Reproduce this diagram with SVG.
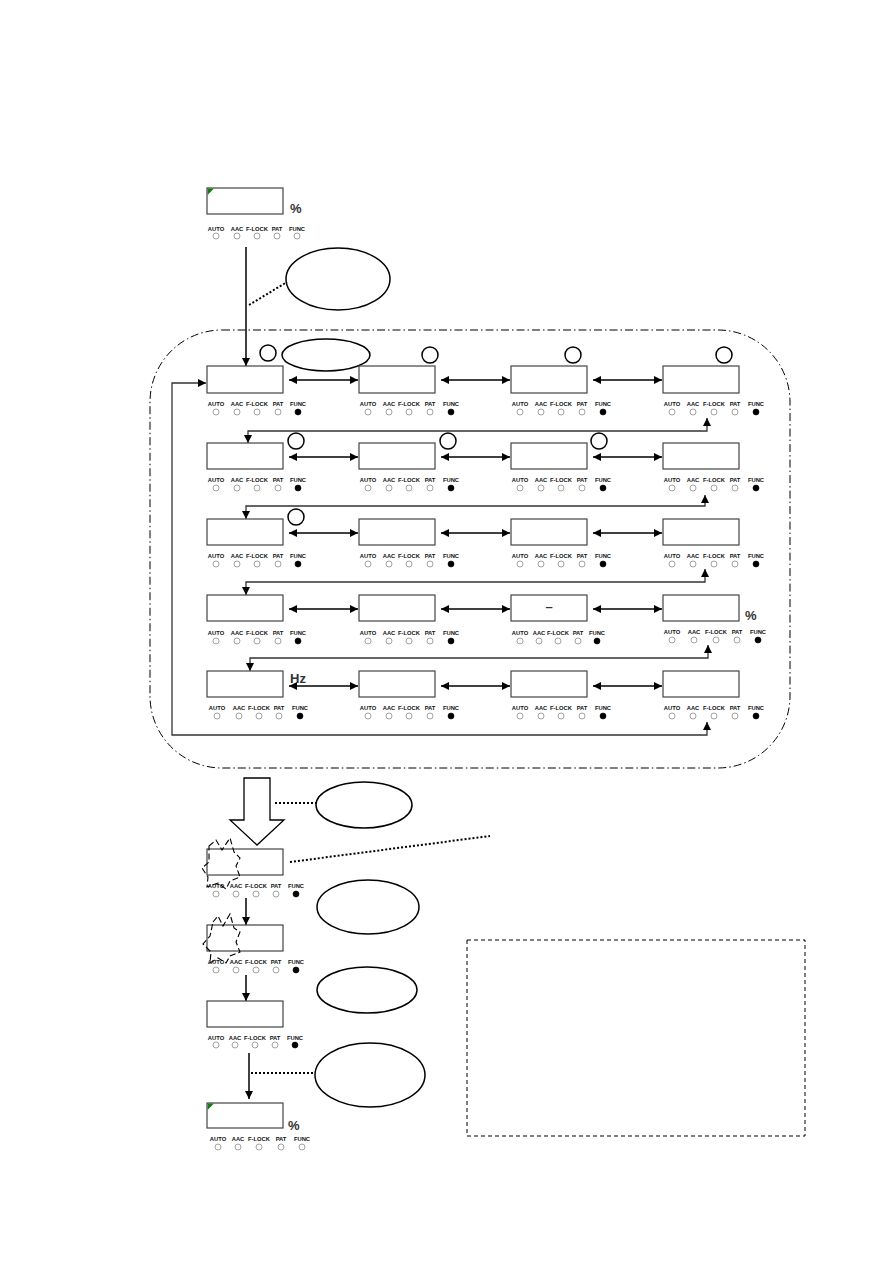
<svg xmlns="http://www.w3.org/2000/svg" width="893" height="1263" viewBox="0 0 893 1263">
<style>
.box{fill:#fff;stroke:#444;stroke-width:1.2}
.lbl{font-family:"Liberation Sans",Arial,sans-serif;font-size:5.8px;font-weight:bold;text-anchor:middle;fill:#111}
.led{fill:#fff;stroke:#666;stroke-width:0.6}
.on{fill:#000;stroke:#000;stroke-width:0.6}
.ln{fill:none;stroke:#000;stroke-width:1.5}
.lnt{fill:none;stroke:#333;stroke-width:1.3}
.dot{fill:none;stroke:#000;stroke-width:2;stroke-dasharray:2 2}
.ell{fill:none;stroke:#000;stroke-width:1.5}
.big{font-family:"Liberation Sans",Arial,sans-serif;font-size:13px;font-weight:bold;fill:#333}
</style>
<defs>
<marker id="ah" viewBox="0 0 10 10" refX="10" refY="5" markerWidth="10" markerHeight="8" markerUnits="userSpaceOnUse" orient="auto-start-reverse"><path d="M0,0 L10,5 L0,10 Z" fill="#000"/></marker>
</defs>
<rect width="893" height="1263" fill="#fff"/>

<!-- outer dash-dot region -->
<rect x="150" y="330" width="640" height="438" rx="72" ry="72" fill="none" stroke="#000" stroke-width="1" stroke-dasharray="8 3 1.5 3"/>

<!-- connectors -->
<g id="connectors">
<line class="ln" x1="246" y1="247" x2="246" y2="366" marker-end="url(#ah)"/>
<path class="dot" d="M249,305 L287,282"/>
<line class="ln" x1="289" y1="380" x2="358" y2="380" marker-start="url(#ah)" marker-end="url(#ah)"/>
<line class="ln" x1="441" y1="380" x2="510" y2="380" marker-start="url(#ah)" marker-end="url(#ah)"/>
<line class="ln" x1="593" y1="380" x2="662" y2="380" marker-start="url(#ah)" marker-end="url(#ah)"/>
<path class="lnt" d="M707,418 L707,431 L248,431 L248,443" marker-start="url(#ah)" marker-end="url(#ah)"/>
<line class="ln" x1="289" y1="457" x2="358" y2="457" marker-start="url(#ah)" marker-end="url(#ah)"/>
<line class="ln" x1="441" y1="457" x2="510" y2="457" marker-start="url(#ah)" marker-end="url(#ah)"/>
<line class="ln" x1="593" y1="457" x2="662" y2="457" marker-start="url(#ah)" marker-end="url(#ah)"/>
<path class="lnt" d="M705,495 L705,506 L246,506 L246,519" marker-start="url(#ah)" marker-end="url(#ah)"/>
<line class="ln" x1="289" y1="533" x2="358" y2="533" marker-start="url(#ah)" marker-end="url(#ah)"/>
<line class="ln" x1="441" y1="533" x2="510" y2="533" marker-start="url(#ah)" marker-end="url(#ah)"/>
<line class="ln" x1="593" y1="533" x2="662" y2="533" marker-start="url(#ah)" marker-end="url(#ah)"/>
<path class="lnt" d="M705,569 L705,582 L246,582 L246,595" marker-start="url(#ah)" marker-end="url(#ah)"/>
<line class="ln" x1="289" y1="609" x2="358" y2="609" marker-start="url(#ah)" marker-end="url(#ah)"/>
<line class="ln" x1="441" y1="609" x2="510" y2="609" marker-start="url(#ah)" marker-end="url(#ah)"/>
<line class="ln" x1="593" y1="609" x2="662" y2="609" marker-start="url(#ah)" marker-end="url(#ah)"/>
<path class="lnt" d="M708,645 L708,658 L250,658 L250,671" marker-start="url(#ah)" marker-end="url(#ah)"/>
<line class="ln" x1="289" y1="686" x2="358" y2="686" marker-start="url(#ah)" marker-end="url(#ah)"/>
<line class="ln" x1="441" y1="686" x2="510" y2="686" marker-start="url(#ah)" marker-end="url(#ah)"/>
<line class="ln" x1="593" y1="686" x2="662" y2="686" marker-start="url(#ah)" marker-end="url(#ah)"/>
<path class="lnt" d="M707,722 L707,735 L172,735 L172,383 L206,383" marker-start="url(#ah)" marker-end="url(#ah)"/>
<!-- bottom -->
<path d="M244,778 L270,778 L270,820 L284,820 L257,845 L230,820 L244,820 Z" fill="#fff" stroke="#000" stroke-width="1.3"/>
<path class="dot" d="M275,803 L316,803"/>
<path class="dot" d="M290,862 L490,836"/>
<line class="ln" x1="246" y1="898" x2="246" y2="925" stroke-width="2" marker-end="url(#ah)"/>
<line class="ln" x1="246" y1="975" x2="246" y2="1001" stroke-width="2" marker-end="url(#ah)"/>
<line class="ln" x1="249" y1="1053" x2="249" y2="1099" stroke-width="2" marker-end="url(#ah)"/>
<path class="dot" d="M251,1073 L314,1073"/>
</g>

<!-- callout ellipses and circles -->
<g id="callouts">
<ellipse class="ell" cx="338" cy="279" rx="52" ry="31"/>
<ellipse class="ell" cx="326" cy="355" rx="44" ry="16"/>
<circle class="ell" cx="268" cy="353" r="8"/>
<circle class="ell" cx="430" cy="355" r="8"/>
<circle class="ell" cx="573" cy="355" r="8"/>
<circle class="ell" cx="724" cy="355" r="8"/>
<circle class="ell" cx="296" cy="441" r="8"/>
<circle class="ell" cx="448" cy="441" r="8"/>
<circle class="ell" cx="599" cy="441" r="8"/>
<circle class="ell" cx="296" cy="517" r="8"/>
<ellipse class="ell" cx="364" cy="805" rx="48" ry="23"/>
<ellipse class="ell" cx="368" cy="907" rx="51" ry="27"/>
<ellipse class="ell" cx="367" cy="990" rx="50" ry="23"/>
<ellipse class="ell" cx="370" cy="1075" rx="55" ry="32"/>
<rect x="467" y="940" width="338" height="196" fill="none" stroke="#000" stroke-width="1" stroke-dasharray="4 3"/>
</g>

<!-- top panel -->
<g id="n-top">
<rect class="box" x="207" y="188" width="76" height="26"/>
<path d="M207.6,188.6 L214,188.6 L207.6,195 Z" fill="#1a7a1a"/>
<text class="big" x="290" y="213">%</text>
<text class="lbl" x="216" y="231">AUTO</text><text class="lbl" x="237" y="231">AAC</text><text class="lbl" x="257" y="231">F-LOCK</text><text class="lbl" x="277" y="231">PAT</text><text class="lbl" x="297" y="231">FUNC</text>
<circle class="led" cx="216" cy="236" r="3"/><circle class="led" cx="237" cy="236" r="3"/><circle class="led" cx="257" cy="236" r="3"/><circle class="led" cx="277" cy="236" r="3"/><circle class="led" cx="297" cy="236" r="3"/>
</g>

<!-- row 1 -->
<g id="n-r1c1">
<rect class="box" x="207" y="366" width="76" height="27"/>
<text class="lbl" x="216" y="406">AUTO</text><text class="lbl" x="237" y="406">AAC</text><text class="lbl" x="257" y="406">F-LOCK</text><text class="lbl" x="278" y="406">PAT</text><text class="lbl" x="298" y="406">FUNC</text>
<circle class="led" cx="216" cy="412" r="3"/><circle class="led" cx="237" cy="412" r="3"/><circle class="led" cx="257" cy="412" r="3"/><circle class="led" cx="278" cy="412" r="3"/><circle class="on" cx="298" cy="412" r="3"/>
</g>
<g id="n-r1c2">
<rect class="box" x="359" y="366" width="76" height="27"/>
<text class="lbl" x="368" y="406">AUTO</text><text class="lbl" x="389" y="406">AAC</text><text class="lbl" x="409" y="406">F-LOCK</text><text class="lbl" x="430" y="406">PAT</text><text class="lbl" x="451" y="406">FUNC</text>
<circle class="led" cx="368" cy="412" r="3"/><circle class="led" cx="389" cy="412" r="3"/><circle class="led" cx="409" cy="412" r="3"/><circle class="led" cx="430" cy="412" r="3"/><circle class="on" cx="451" cy="412" r="3"/>
</g>
<g id="n-r1c3">
<rect class="box" x="511" y="366" width="76" height="27"/>
<text class="lbl" x="520" y="406">AUTO</text><text class="lbl" x="541" y="406">AAC</text><text class="lbl" x="561" y="406">F-LOCK</text><text class="lbl" x="582" y="406">PAT</text><text class="lbl" x="603" y="406">FUNC</text>
<circle class="led" cx="520" cy="412" r="3"/><circle class="led" cx="541" cy="412" r="3"/><circle class="led" cx="561" cy="412" r="3"/><circle class="led" cx="582" cy="412" r="3"/><circle class="on" cx="603" cy="412" r="3"/>
</g>
<g id="n-r1c4">
<rect class="box" x="663" y="366" width="76" height="27"/>
<text class="lbl" x="672" y="406">AUTO</text><text class="lbl" x="693" y="406">AAC</text><text class="lbl" x="714" y="406">F-LOCK</text><text class="lbl" x="735" y="406">PAT</text><text class="lbl" x="756" y="406">FUNC</text>
<circle class="led" cx="672" cy="412" r="3"/><circle class="led" cx="693" cy="412" r="3"/><circle class="led" cx="714" cy="412" r="3"/><circle class="led" cx="735" cy="412" r="3"/><circle class="on" cx="756" cy="412" r="3"/>
</g>

<!-- row 2 -->
<g id="n-r2c1">
<rect class="box" x="207" y="443" width="76" height="26"/>
<text class="lbl" x="216" y="482">AUTO</text><text class="lbl" x="237" y="482">AAC</text><text class="lbl" x="257" y="482">F-LOCK</text><text class="lbl" x="278" y="482">PAT</text><text class="lbl" x="298" y="482">FUNC</text>
<circle class="led" cx="216" cy="488" r="3"/><circle class="led" cx="237" cy="488" r="3"/><circle class="led" cx="257" cy="488" r="3"/><circle class="led" cx="278" cy="488" r="3"/><circle class="on" cx="298" cy="488" r="3"/>
</g>
<g id="n-r2c2">
<rect class="box" x="359" y="443" width="76" height="26"/>
<text class="lbl" x="368" y="482">AUTO</text><text class="lbl" x="389" y="482">AAC</text><text class="lbl" x="409" y="482">F-LOCK</text><text class="lbl" x="430" y="482">PAT</text><text class="lbl" x="451" y="482">FUNC</text>
<circle class="led" cx="368" cy="488" r="3"/><circle class="led" cx="389" cy="488" r="3"/><circle class="led" cx="409" cy="488" r="3"/><circle class="led" cx="430" cy="488" r="3"/><circle class="on" cx="451" cy="488" r="3"/>
</g>
<g id="n-r2c3">
<rect class="box" x="511" y="443" width="76" height="26"/>
<text class="lbl" x="520" y="482">AUTO</text><text class="lbl" x="541" y="482">AAC</text><text class="lbl" x="561" y="482">F-LOCK</text><text class="lbl" x="582" y="482">PAT</text><text class="lbl" x="603" y="482">FUNC</text>
<circle class="led" cx="520" cy="488" r="3"/><circle class="led" cx="541" cy="488" r="3"/><circle class="led" cx="561" cy="488" r="3"/><circle class="led" cx="582" cy="488" r="3"/><circle class="on" cx="603" cy="488" r="3"/>
</g>
<g id="n-r2c4">
<rect class="box" x="663" y="443" width="76" height="26"/>
<text class="lbl" x="672" y="482">AUTO</text><text class="lbl" x="693" y="482">AAC</text><text class="lbl" x="714" y="482">F-LOCK</text><text class="lbl" x="735" y="482">PAT</text><text class="lbl" x="756" y="482">FUNC</text>
<circle class="led" cx="672" cy="488" r="3"/><circle class="led" cx="693" cy="488" r="3"/><circle class="led" cx="714" cy="488" r="3"/><circle class="led" cx="735" cy="488" r="3"/><circle class="on" cx="756" cy="488" r="3"/>
</g>

<!-- row 3 -->
<g id="n-r3c1">
<rect class="box" x="207" y="519" width="76" height="26"/>
<text class="lbl" x="216" y="558">AUTO</text><text class="lbl" x="237" y="558">AAC</text><text class="lbl" x="257" y="558">F-LOCK</text><text class="lbl" x="278" y="558">PAT</text><text class="lbl" x="298" y="558">FUNC</text>
<circle class="led" cx="216" cy="564" r="3"/><circle class="led" cx="237" cy="564" r="3"/><circle class="led" cx="257" cy="564" r="3"/><circle class="led" cx="278" cy="564" r="3"/><circle class="on" cx="298" cy="564" r="3"/>
</g>
<g id="n-r3c2">
<rect class="box" x="359" y="519" width="76" height="26"/>
<text class="lbl" x="368" y="558">AUTO</text><text class="lbl" x="389" y="558">AAC</text><text class="lbl" x="409" y="558">F-LOCK</text><text class="lbl" x="430" y="558">PAT</text><text class="lbl" x="451" y="558">FUNC</text>
<circle class="led" cx="368" cy="564" r="3"/><circle class="led" cx="389" cy="564" r="3"/><circle class="led" cx="409" cy="564" r="3"/><circle class="led" cx="430" cy="564" r="3"/><circle class="on" cx="451" cy="564" r="3"/>
</g>
<g id="n-r3c3">
<rect class="box" x="511" y="519" width="76" height="26"/>
<text class="lbl" x="520" y="558">AUTO</text><text class="lbl" x="541" y="558">AAC</text><text class="lbl" x="561" y="558">F-LOCK</text><text class="lbl" x="582" y="558">PAT</text><text class="lbl" x="603" y="558">FUNC</text>
<circle class="led" cx="520" cy="564" r="3"/><circle class="led" cx="541" cy="564" r="3"/><circle class="led" cx="561" cy="564" r="3"/><circle class="led" cx="582" cy="564" r="3"/><circle class="on" cx="603" cy="564" r="3"/>
</g>
<g id="n-r3c4">
<rect class="box" x="663" y="519" width="76" height="26"/>
<text class="lbl" x="672" y="558">AUTO</text><text class="lbl" x="693" y="558">AAC</text><text class="lbl" x="714" y="558">F-LOCK</text><text class="lbl" x="735" y="558">PAT</text><text class="lbl" x="756" y="558">FUNC</text>
<circle class="led" cx="672" cy="564" r="3"/><circle class="led" cx="693" cy="564" r="3"/><circle class="led" cx="714" cy="564" r="3"/><circle class="led" cx="735" cy="564" r="3"/><circle class="on" cx="756" cy="564" r="3"/>
</g>

<!-- row 4 -->
<g id="n-r4c1">
<rect class="box" x="207" y="595" width="76" height="26"/>
<text class="lbl" x="216" y="635">AUTO</text><text class="lbl" x="237" y="635">AAC</text><text class="lbl" x="257" y="635">F-LOCK</text><text class="lbl" x="278" y="635">PAT</text><text class="lbl" x="298" y="635">FUNC</text>
<circle class="led" cx="216" cy="641" r="3"/><circle class="led" cx="237" cy="641" r="3"/><circle class="led" cx="257" cy="641" r="3"/><circle class="led" cx="278" cy="641" r="3"/><circle class="on" cx="298" cy="641" r="3"/>
</g>
<g id="n-r4c2">
<rect class="box" x="359" y="595" width="76" height="26"/>
<text class="lbl" x="368" y="635">AUTO</text><text class="lbl" x="389" y="635">AAC</text><text class="lbl" x="409" y="635">F-LOCK</text><text class="lbl" x="430" y="635">PAT</text><text class="lbl" x="451" y="635">FUNC</text>
<circle class="led" cx="368" cy="641" r="3"/><circle class="led" cx="389" cy="641" r="3"/><circle class="led" cx="409" cy="641" r="3"/><circle class="led" cx="430" cy="641" r="3"/><circle class="on" cx="451" cy="641" r="3"/>
</g>
<g id="n-r4c3">
<rect class="box" x="511" y="595" width="76" height="26"/>
<text class="big" x="549" y="611" text-anchor="middle">–</text>
<text class="lbl" x="520" y="635">AUTO</text><text class="lbl" x="539" y="635">AAC</text><text class="lbl" x="558" y="635">F-LOCK</text><text class="lbl" x="578" y="635">PAT</text><text class="lbl" x="597" y="635">FUNC</text>
<circle class="led" cx="520" cy="641" r="3"/><circle class="led" cx="539" cy="641" r="3"/><circle class="led" cx="558" cy="641" r="3"/><circle class="led" cx="578" cy="641" r="3"/><circle class="on" cx="597" cy="641" r="3"/>
</g>
<g id="n-r4c4">
<rect class="box" x="663" y="595" width="76" height="26"/>
<text class="big" x="745" y="620">%</text>
<text class="lbl" x="672" y="634">AUTO</text><text class="lbl" x="694" y="634">AAC</text><text class="lbl" x="716" y="634">F-LOCK</text><text class="lbl" x="737" y="634">PAT</text><text class="lbl" x="758" y="634">FUNC</text>
<circle class="led" cx="672" cy="640" r="3"/><circle class="led" cx="694" cy="640" r="3"/><circle class="led" cx="716" cy="640" r="3"/><circle class="led" cx="737" cy="640" r="3"/><circle class="on" cx="758" cy="640" r="3"/>
</g>

<!-- row 5 -->
<g id="n-r5c1">
<rect class="box" x="207" y="671" width="76" height="26"/>
<text class="big" x="290" y="683" font-size="10">Hz</text>
<text class="lbl" x="217" y="710">AUTO</text><text class="lbl" x="239" y="710">AAC</text><text class="lbl" x="259" y="710">F-LOCK</text><text class="lbl" x="279" y="710">PAT</text><text class="lbl" x="300" y="710">FUNC</text>
<circle class="led" cx="217" cy="716" r="3"/><circle class="led" cx="239" cy="716" r="3"/><circle class="led" cx="259" cy="716" r="3"/><circle class="led" cx="279" cy="716" r="3"/><circle class="on" cx="300" cy="716" r="3"/>
</g>
<g id="n-r5c2">
<rect class="box" x="359" y="671" width="76" height="26"/>
<text class="lbl" x="368" y="710">AUTO</text><text class="lbl" x="389" y="710">AAC</text><text class="lbl" x="409" y="710">F-LOCK</text><text class="lbl" x="430" y="710">PAT</text><text class="lbl" x="451" y="710">FUNC</text>
<circle class="led" cx="368" cy="716" r="3"/><circle class="led" cx="389" cy="716" r="3"/><circle class="led" cx="409" cy="716" r="3"/><circle class="led" cx="430" cy="716" r="3"/><circle class="on" cx="451" cy="716" r="3"/>
</g>
<g id="n-r5c3">
<rect class="box" x="511" y="671" width="76" height="26"/>
<text class="lbl" x="520" y="710">AUTO</text><text class="lbl" x="541" y="710">AAC</text><text class="lbl" x="561" y="710">F-LOCK</text><text class="lbl" x="582" y="710">PAT</text><text class="lbl" x="603" y="710">FUNC</text>
<circle class="led" cx="520" cy="716" r="3"/><circle class="led" cx="541" cy="716" r="3"/><circle class="led" cx="561" cy="716" r="3"/><circle class="led" cx="582" cy="716" r="3"/><circle class="on" cx="603" cy="716" r="3"/>
</g>
<g id="n-r5c4">
<rect class="box" x="663" y="671" width="76" height="26"/>
<text class="lbl" x="672" y="710">AUTO</text><text class="lbl" x="693" y="710">AAC</text><text class="lbl" x="714" y="710">F-LOCK</text><text class="lbl" x="735" y="710">PAT</text><text class="lbl" x="756" y="710">FUNC</text>
<circle class="led" cx="672" cy="716" r="3"/><circle class="led" cx="693" cy="716" r="3"/><circle class="led" cx="714" cy="716" r="3"/><circle class="led" cx="735" cy="716" r="3"/><circle class="on" cx="756" cy="716" r="3"/>
</g>

<!-- bottom sequence -->
<g id="n-b1">
<rect class="box" x="207" y="849" width="76" height="26"/>
<path d="M209,846 L216,840 L222,850 L230,838 L234,852 L240,858 L236,866 L240,877 L230,881 L226,889 L218,883 L207,887 L208,877 L202,868 L209,862 Z" fill="none" stroke="#000" stroke-width="1.1" stroke-dasharray="6 3"/>
<text class="lbl" x="216" y="888">AUTO</text><text class="lbl" x="236" y="888">AAC</text><text class="lbl" x="256" y="888">F-LOCK</text><text class="lbl" x="276" y="888">PAT</text><text class="lbl" x="296" y="888">FUNC</text>
<circle class="led" cx="216" cy="894" r="3"/><circle class="led" cx="236" cy="894" r="3"/><circle class="led" cx="256" cy="894" r="3"/><circle class="led" cx="276" cy="894" r="3"/><circle class="on" cx="296" cy="894" r="3"/>
</g>
<g id="n-b2">
<rect class="box" x="207" y="925" width="76" height="26"/>
<path d="M213,922 L218,916 L223,926 L230,914 L234,928 L240,932 L236,942 L240,952 L230,956 L226,963 L218,958 L210,963 L211,952 L203,944 L210,936 Z" fill="none" stroke="#000" stroke-width="1.1" stroke-dasharray="6 3"/>
<text class="lbl" x="216" y="964">AUTO</text><text class="lbl" x="236" y="964">AAC</text><text class="lbl" x="256" y="964">F-LOCK</text><text class="lbl" x="276" y="964">PAT</text><text class="lbl" x="296" y="964">FUNC</text>
<circle class="led" cx="216" cy="970" r="3"/><circle class="led" cx="236" cy="970" r="3"/><circle class="led" cx="256" cy="970" r="3"/><circle class="led" cx="276" cy="970" r="3"/><circle class="on" cx="296" cy="970" r="3"/>
</g>
<g id="n-b3">
<rect class="box" x="207" y="1001" width="76" height="26"/>
<text class="lbl" x="216" y="1040">AUTO</text><text class="lbl" x="235" y="1040">AAC</text><text class="lbl" x="255" y="1040">F-LOCK</text><text class="lbl" x="275" y="1040">PAT</text><text class="lbl" x="295" y="1040">FUNC</text>
<circle class="led" cx="216" cy="1045" r="3"/><circle class="led" cx="235" cy="1045" r="3"/><circle class="led" cx="255" cy="1045" r="3"/><circle class="led" cx="275" cy="1045" r="3"/><circle class="on" cx="295" cy="1045" r="3"/>
</g>
<g id="n-b4">
<rect class="box" x="207" y="1103" width="76" height="25"/>
<path d="M207.6,1103.6 L214,1103.6 L207.6,1110 Z" fill="#1a7a1a"/>
<text class="big" x="288" y="1130">%</text>
<text class="lbl" x="218" y="1141">AUTO</text><text class="lbl" x="238" y="1141">AAC</text><text class="lbl" x="259" y="1141">F-LOCK</text><text class="lbl" x="281" y="1141">PAT</text><text class="lbl" x="302" y="1141">FUNC</text>
<circle class="led" cx="218" cy="1147" r="3"/><circle class="led" cx="238" cy="1147" r="3"/><circle class="led" cx="259" cy="1147" r="3"/><circle class="led" cx="281" cy="1147" r="3"/><circle class="led" cx="302" cy="1147" r="3"/>
</g>
</svg>
